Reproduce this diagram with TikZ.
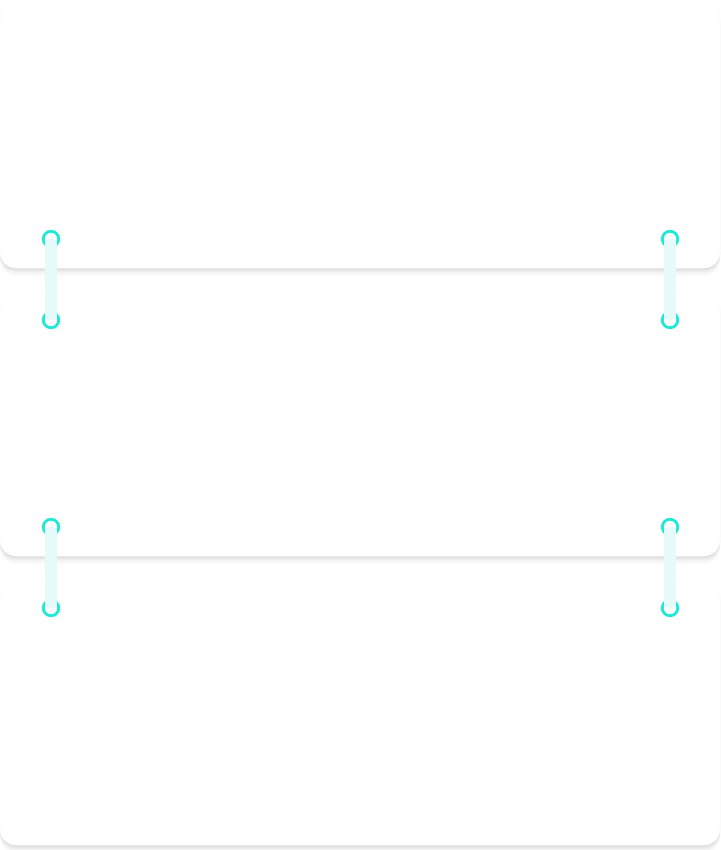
\documentclass[tikz,border=0pt]{standalone}
\definecolor{ringcol}{HTML}{1DE9D6}
\definecolor{barcol}{HTML}{E6FAF9}
\begin{document}
\begin{tikzpicture}[x=1pt,y=-1pt,
  cardbox/.style={fill=white,draw=black!2,line width=0.6pt,rounded corners=16pt},
  barfill/.style={fill=barcol,draw=none},
  ringline/.style={draw=ringcol,line width=2.8pt,fill=none}]
\useasboundingbox (0,0) rectangle (720,850);
\fill[white] (0,0) rectangle (720,850);
% shadows and cards
\foreach \t/\b/\n in {3/268/c1,292/556/c2,580/845/c3}{
  \foreach \k/\o in {8/0.015,6/0.025,4/0.035,2/0.05}{
    \fill[black,opacity=\o,rounded corners=16pt] (0,\t+\k) rectangle (720,\b+\k);
  }
  \path[cardbox] (0,\t) rectangle (720,\b);
  \coordinate (\n) at (360,\t);
}
% connectors
\foreach \x/\ya/\yb/\n in {51/239/320/la,670/239/320/ra,51/527/608/lb,670/527/608/rb}{
  \node[circle,ringline,minimum size=15.5pt,inner sep=0pt] (\n t) at (\x,\ya) {};
  \node[circle,ringline,minimum size=15.5pt,inner sep=0pt] (\n b) at (\x,\yb) {};
  \fill[barfill,rounded corners=4pt] ([xshift=-6pt]\n t.center) rectangle ([xshift=6pt]\n b.center);
}
\end{tikzpicture}
\end{document}
